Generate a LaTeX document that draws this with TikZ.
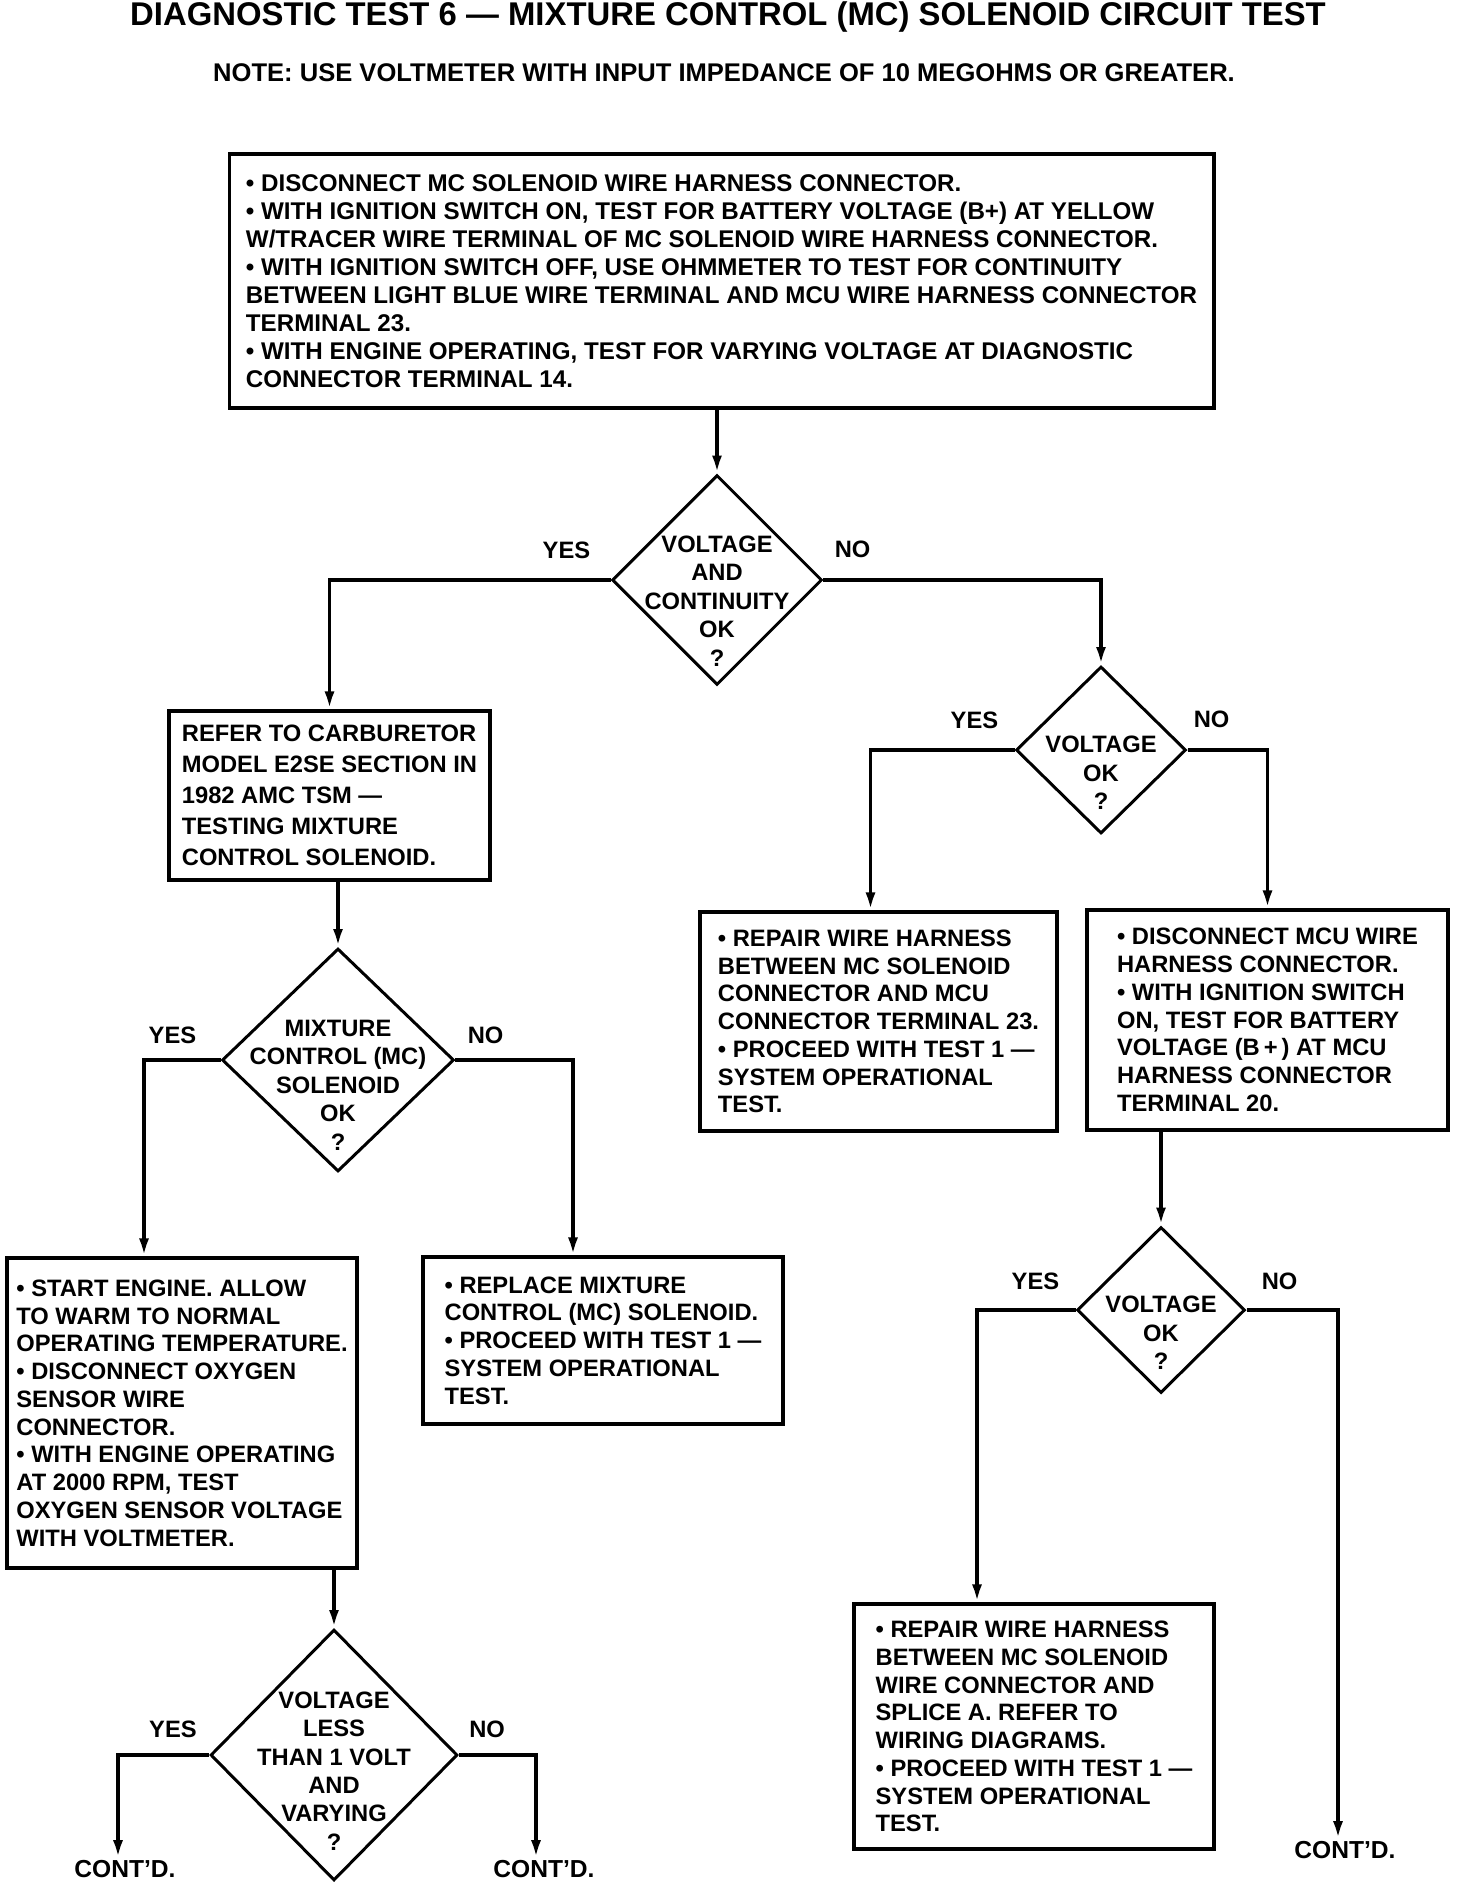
\documentclass[tikz,border=0pt]{standalone}
\usepackage{fontspec}
\setmainfont{Liberation Sans}
\usepackage{tikz}
\usetikzlibrary{shapes.geometric, arrows.meta, positioning}
\tikzset{
	actbox/.style={rectangle, draw=black, line width=1.8pt, align=left, inner sep=0pt, font=\bfseries\fontsize{13.5}{15.8}\selectfont},
	query/.style ={diamond, draw=black, line width=1.7pt, inner sep=0pt},
	qtext/.style ={align=center, inner sep=0pt, font=\bfseries\fontsize{13.5}{16.2}\selectfont},
	ans/.style   ={inner sep=0pt, font=\bfseries\fontsize{13.5}{16}\selectfont},
	contd/.style ={inner sep=1pt, font=\bfseries\fontsize{14}{16}\selectfont},
	flow/.style  ={-{Latex[length=0.36cm, width=0.2cm]}, line width=2.2pt},
}

\begin{document}
\begin{tikzpicture}[x=0.02cm, y=-0.02cm]
	\useasboundingbox (0,0) rectangle (1472,1882);
	% heading
	\node[font=\bfseries\fontsize{18.7}{22}\selectfont] (title) at (728,17) {DIAGNOSTIC TEST 6 — MIXTURE CONTROL (MC) SOLENOID CIRCUIT TEST};
	\node[font=\bfseries\fontsize{14.55}{17}\selectfont] (note) at (724,73) {NOTE: USE VOLTMETER WITH INPUT IMPEDANCE OF 10 MEGOHMS OR GREATER.};
	% action boxes
	\node[actbox, minimum width=19.7cm, minimum height=5.08cm, font=\bfseries\fontsize{13.75}{15.9}\selectfont] (b1) at (721.5,281) {• DISCONNECT MC SOLENOID WIRE HARNESS CONNECTOR.\\• WITH IGNITION SWITCH ON, TEST FOR BATTERY VOLTAGE (B+) AT YELLOW\\W/TRACER WIRE TERMINAL OF MC SOLENOID WIRE HARNESS CONNECTOR.\\• WITH IGNITION SWITCH OFF, USE OHMMETER TO TEST FOR CONTINUITY\\BETWEEN LIGHT BLUE WIRE TERMINAL AND MCU WIRE HARNESS CONNECTOR\\TERMINAL 23.\\• WITH ENGINE OPERATING, TEST FOR VARYING VOLTAGE AT DIAGNOSTIC\\CONNECTOR TERMINAL 14.};
	\node[actbox, minimum width=6.42cm, minimum height=3.38cm, font=\bfseries\fontsize{13.5}{17.6}\selectfont] (b2) at (329.5,795.5) {REFER TO CARBURETOR\\MODEL E2SE SECTION IN\\1982 AMC TSM —\\TESTING MIXTURE\\CONTROL SOLENOID.};
	\node[actbox, minimum width=7cm, minimum height=6.2cm] (b4) at (182,1413) {• START ENGINE. ALLOW\\TO WARM TO NORMAL\\OPERATING TEMPERATURE.\\• DISCONNECT OXYGEN\\SENSOR WIRE\\CONNECTOR.\\• WITH ENGINE OPERATING\\AT 2000 RPM, TEST\\OXYGEN SENSOR VOLTAGE\\WITH VOLTMETER.};
	\node[actbox, minimum width=7.2cm, minimum height=3.34cm] (b5) at (603,1340.5) {• REPLACE MIXTURE\\CONTROL (MC) SOLENOID.\\• PROCEED WITH TEST 1 —\\SYSTEM OPERATIONAL\\TEST.};
	\node[actbox, minimum width=7.14cm, minimum height=4.38cm] (b6) at (878.5,1021.5) {• REPAIR WIRE HARNESS\\BETWEEN MC SOLENOID\\CONNECTOR AND MCU\\CONNECTOR TERMINAL 23.\\• PROCEED WITH TEST 1 —\\SYSTEM OPERATIONAL\\TEST.};
	\node[actbox, minimum width=7.22cm, minimum height=4.4cm] (b7) at (1267.5,1020) {• DISCONNECT MCU WIRE\\HARNESS CONNECTOR.\\• WITH IGNITION SWITCH\\ON, TEST FOR BATTERY\\VOLTAGE (B\,+\,) AT MCU\\HARNESS CONNECTOR\\TERMINAL 20.};
	\node[actbox, minimum width=7.2cm, minimum height=4.9cm] (b8) at (1034,1726.5) {• REPAIR WIRE HARNESS\\BETWEEN MC SOLENOID\\WIRE CONNECTOR AND\\SPLICE A. REFER TO\\WIRING DIAGRAMS.\\• PROCEED WITH TEST 1 —\\SYSTEM OPERATIONAL\\TEST.};
	% decisions
	\node[query, minimum width=4.2cm, minimum height=4.2cm] (q1) at (717,580) {};
	\node[qtext] (q1t) at ([yshift=-0.42cm]q1.center) {VOLTAGE\\AND\\CONTINUITY\\OK\\?};
	\node[query, minimum width=3.4cm, minimum height=3.34cm] (q2) at (1101,750) {};
	\node[qtext] (q2t) at ([yshift=-0.46cm]q2.center) {VOLTAGE\\OK\\?};
	\node[query, minimum width=4.64cm, minimum height=4.46cm] (q3) at (338,1060) {};
	\node[qtext] (q3t) at ([yshift=-0.5cm]q3.center) {MIXTURE\\CONTROL (MC)\\SOLENOID\\OK\\?};
	\node[query, minimum width=4.94cm, minimum height=5.02cm] (q4) at (334,1755) {};
	\node[qtext] (q4t) at ([yshift=-0.32cm]q4.center) {VOLTAGE\\LESS\\THAN 1 VOLT\\AND\\VARYING\\?};
	\node[query, minimum width=3.36cm, minimum height=3.32cm] (q5) at (1161,1310) {};
	\node[qtext] (q5t) at ([yshift=-0.46cm]q5.center) {VOLTAGE\\OK\\?};
	% answers
	\node[ans, above left=0.42cm and 0.4cm of q1.west] (q1y) {YES};
	\node[ans, above right=0.44cm and 0.22cm of q1.east] (q1n) {NO};
	\node[ans, above left=0.42cm and 0.32cm of q2.west] (q2y) {YES};
	\node[ans, above right=0.44cm and 0.12cm of q2.east] (q2n) {NO};
	\node[ans, above left=0.32cm and 0.48cm of q3.west] (q3y) {YES};
	\node[ans, above right=0.32cm and 0.24cm of q3.east] (q3n) {NO};
	\node[ans, above left=0.34cm and 0.24cm of q4.west] (q4y) {YES};
	\node[ans, above right=0.34cm and 0.2cm of q4.east] (q4n) {NO};
	\node[ans, above left=0.4cm and 0.32cm of q5.west] (q5y) {YES};
	\node[ans, above right=0.4cm and 0.3cm of q5.east] (q5n) {NO};
	% continuation marks
	\node[contd] (c1) at (125,1869) {CONT'D.};
	\node[contd] (c2) at (544,1869) {CONT'D.};
	\node[contd] (c3) at (1345,1850) {CONT'D.};
	% connectors
	\draw[flow] (b1.south -| q1) -- (q1);
	\draw[flow] (q1) -| (b2);
	\draw[flow] (q1) -| (q2);
	\draw[flow] (q2) -| ([xshift=-0.16cm]b6.north);
	\draw[flow] (q2) -| (b7);
	\draw[flow] (b7.south -| q5) -- (q5);
	\draw[flow] (q5) -| ([xshift=-1.14cm]b8.north);
	\draw[flow] (q5) -| ([xshift=-0.14cm]c3.north);
	\draw[flow] (b2.south -| q3) -- (q3);
	\draw[flow] (q3) -| ([xshift=-0.76cm]b4.north);
	\draw[flow] (q3) -| ([xshift=-0.6cm]b5.north);
	\draw[flow] (b4.south -| q4) -- (q4);
	\draw[flow] (q4) -| ([xshift=-0.14cm]c1.north);
	\draw[flow] (q4) -| ([xshift=-0.16cm]c2.north);
\end{tikzpicture}
\end{document}
